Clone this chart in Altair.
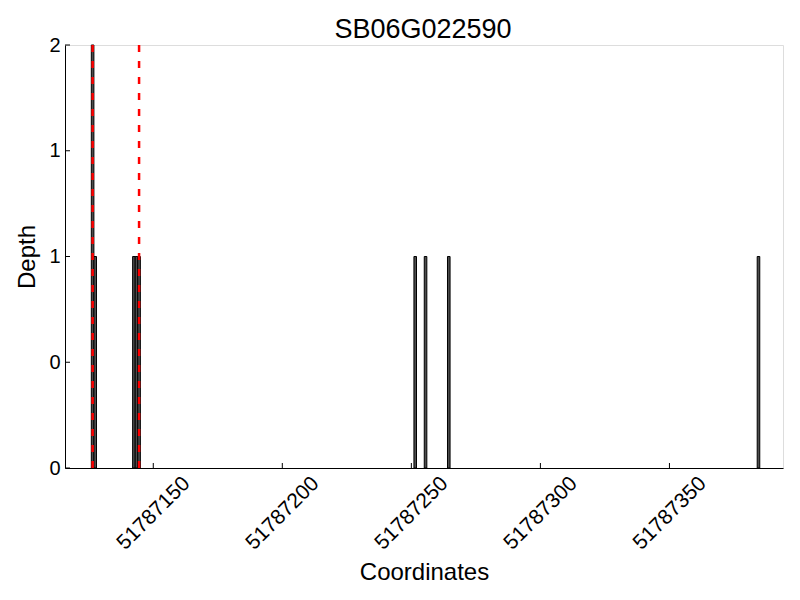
import altair as alt
import pandas as pd

# ---- data ----
positions = [51787126, 51787127, 51787142, 51787143, 51787144,
             51787251, 51787255, 51787264, 51787384]
depths = [2, 1, 1, 1, 1, 1, 1, 1, 1]
red_lines = [51787126.5, 51787144.5]
x_ticks = [51787150, 51787200, 51787250, 51787300, 51787350]
y_ticks = [0, 0.5, 1, 1.5, 2]
x_domain = [51787115.8, 51787394]
y_domain = [0, 2]
title_text = "SB06G022590"

W, H = 718, 423
FONT = "Liberation Sans"

bars_df = pd.DataFrame({"pos": positions, "depth": depths})
lines_df = pd.DataFrame({"pos": red_lines})
xt_df = pd.DataFrame({"v": x_ticks})
yt_df = pd.DataFrame({"v": y_ticks})
title_df = pd.DataFrame({"t": [title_text]})

xscale = alt.Scale(domain=x_domain, nice=False, zero=False)
yscale = alt.Scale(domain=y_domain, nice=False)

x_axis = alt.Axis(values=x_ticks, format="d", grid=False, ticks=False, tickSize=0,
                  labelAngle=315, labelAlign="center", labelBaseline="middle",
                  labelPadding=45, labelFontSize=21, labelFont=FONT, labelColor="black",
                  labelOverlap=False, domainColor="black", domainWidth=1,
                  title="Coordinates", titleFont=FONT, titleFontSize=24,
                  titleFontWeight="normal", titleColor="black",
                  titleBaseline="alphabetic", titleY=111)
y_axis = alt.Axis(values=y_ticks, labelExpr="floor(datum.value)", grid=False,
                  ticks=False, tickSize=0, labelPadding=5, labelFontSize=20,
                  labelFont=FONT, labelColor="black", domainColor="black",
                  domainWidth=1, title="Depth", titleFont=FONT, titleFontSize=24,
                  titleFontWeight="normal", titleColor="black",
                  titleBaseline="middle", titleX=-38)

bars = alt.Chart(bars_df).transform_calculate(
    end="datum.pos + 1"
).mark_rect(fill="#4d4d4d", stroke="black", strokeWidth=1).encode(
    x=alt.X("pos:Q", scale=xscale, axis=x_axis),
    x2="end:Q",
    y=alt.Y("depth:Q", scale=yscale, axis=y_axis),
    y2=alt.datum(0),
)

red = alt.Chart(lines_df).mark_rule(color="red", strokeWidth=2.5,
                                    strokeDash=[7, 9]).encode(
    x=alt.X("pos:Q", scale=xscale),
    y=alt.value(0),
    y2=alt.value(H),
)

xticks = alt.Chart(xt_df).mark_rule(color="black", strokeWidth=1).encode(
    x=alt.X("v:Q", scale=xscale),
    y=alt.value(H),
    y2=alt.value(H - 5),
)
yticks = alt.Chart(yt_df).mark_rule(color="black", strokeWidth=1).encode(
    y=alt.Y("v:Q", scale=yscale),
    x=alt.value(0),
    x2=alt.value(5),
)

title = alt.Chart(title_df).mark_text(
    font=FONT, fontSize=27, color="black", align="center", baseline="alphabetic"
).encode(
    text="t:N",
    x=alt.value(W / 2 - 1),
    y=alt.value(-7),
)

chart = alt.layer(bars, red, xticks, yticks, title).properties(
    width=W,
    height=H,
    autosize=alt.AutoSizeParams(type="none"),
    padding={"left": 57, "top": 37, "right": 9, "bottom": 120},
).configure_view(stroke=None).configure(background="white")

chart.save("out.html", embed_options={"renderer": "svg", "actions": False})
